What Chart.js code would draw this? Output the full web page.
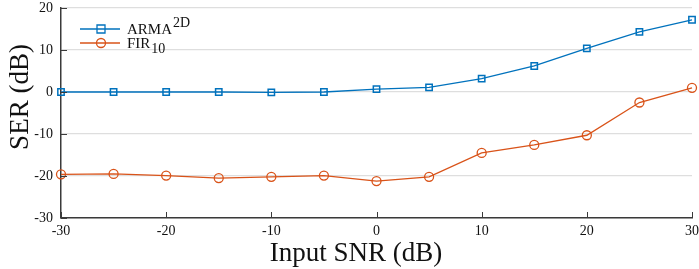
<!DOCTYPE html>
<html>
<head>
<meta charset="utf-8">
<script src="https://cdn.jsdelivr.net/npm/chart.js@4"></script>
<style>
  html, body { margin: 0; padding: 0; background: #fff; }
  #wrap { width: 699px; height: 269px; position: relative; }
</style>
</head>
<body>
<div id="wrap"><canvas id="chart" width="699" height="269"></canvas></div>
<script>
// input SNR values (dB)
const snr = [-30, -25, -20, -15, -10, -5, 0, 5, 10, 15, 20, 25, 30];
// SER for each method (dB)
const armaSer = [0.0, 0.0, 0.0, 0.0, -0.1, 0.0, 0.7, 1.1, 3.2, 6.2, 10.4, 14.3, 17.2];
const firSer = [-19.6, -19.5, -19.9, -20.5, -20.2, -19.9, -21.2, -20.2, -14.5, -12.6, -10.3, -2.5, 1.0];
const yTicks = [-30, -20, -10, 0, 10, 20];
const xTicks = [-30, -20, -10, 0, 10, 20, 30];
const xTitle = "Input SNR (dB)";
const yTitle = "SER (dB)";

const BLUE = "#0072BD";
const ORANGE = "#D95319";
const AXIS = "#3a3a3a";
const SERIF = "'Liberation Serif', 'Times New Roman', serif";

const toPoints = (xs, ys) => xs.map((x, i) => ({ x: x, y: ys[i] }));

// inward ticks on both axes, like the original figure
const innerTicks = {
  id: "innerTicks",
  afterDraw(chart) {
    const ctx = chart.ctx;
    const xs = chart.scales.x;
    const ys = chart.scales.y;
    const area = chart.chartArea;
    ctx.save();
    ctx.strokeStyle = AXIS;
    ctx.lineWidth = 1;
    xTicks.forEach((v) => {
      const px = Math.round(xs.getPixelForValue(v)) + 0.5;
      ctx.beginPath();
      ctx.moveTo(px, area.bottom);
      ctx.lineTo(px, area.bottom - 6);
      ctx.stroke();
    });
    yTicks.forEach((v) => {
      const py = Math.round(ys.getPixelForValue(v)) + 0.5;
      ctx.beginPath();
      ctx.moveTo(area.left, py);
      ctx.lineTo(area.left + 6, py);
      ctx.stroke();
    });
    ctx.restore();
  },
};

// axis titles placed where the original has them (not centred on the plot)
const axisTitles = {
  id: "axisTitles",
  afterDraw(chart) {
    const ctx = chart.ctx;
    ctx.save();
    ctx.fillStyle = "#111";
    ctx.font = "27px " + SERIF;
    ctx.textAlign = "center";
    ctx.textBaseline = "alphabetic";
    ctx.fillText(xTitle, 356, 261);
    ctx.translate(28, 97);
    ctx.rotate(-Math.PI / 2);
    ctx.fillText(yTitle, 0, 0);
    ctx.restore();
  },
};

// legend with super/subscript labels
const mathLegend = {
  id: "mathLegend",
  afterDraw(chart) {
    const ctx = chart.ctx;
    const rows = [
      { color: BLUE, shape: "rect", base: "ARMA", extra: "2D", up: true, y: 29 },
      { color: ORANGE, shape: "circle", base: "FIR", extra: "10", up: false, y: 43 },
    ];
    ctx.save();
    rows.forEach((r) => {
      ctx.strokeStyle = r.color;
      ctx.lineWidth = 1.3;
      ctx.beginPath();
      ctx.moveTo(80, r.y);
      ctx.lineTo(120, r.y);
      ctx.stroke();
      ctx.beginPath();
      if (r.shape === "rect") {
        ctx.rect(97, r.y - 4, 8, 8);
      } else {
        ctx.arc(101, r.y, 4.5, 0, Math.PI * 2);
      }
      ctx.stroke();
      ctx.fillStyle = "#111";
      ctx.textBaseline = "alphabetic";
      ctx.font = "15px " + SERIF;
      ctx.fillText(r.base, 127, r.y + 5);
      const w = ctx.measureText(r.base).width;
      ctx.font = "14px " + SERIF;
      ctx.fillText(r.extra, 127 + w + 1, r.up ? r.y - 2 : r.y + 10);
    });
    ctx.restore();
  },
};

new Chart(document.getElementById("chart").getContext("2d"), {
  type: "line",
  data: {
    datasets: [
      {
        label: "ARMA2D",
        data: toPoints(snr, armaSer),
        borderColor: BLUE,
        backgroundColor: "rgba(0,0,0,0)",
        borderWidth: 1.3,
        pointStyle: "rect",
        pointRadius: 4.5,
        pointBorderWidth: 1.5,
        pointBorderColor: BLUE,
        pointBackgroundColor: "rgba(0,0,0,0)",
        tension: 0,
      },
      {
        label: "FIR10",
        data: toPoints(snr, firSer),
        borderColor: ORANGE,
        backgroundColor: "rgba(0,0,0,0)",
        borderWidth: 1.3,
        pointStyle: "circle",
        pointRadius: 4.5,
        pointBorderWidth: 1.3,
        pointBorderColor: ORANGE,
        pointBackgroundColor: "rgba(0,0,0,0)",
        tension: 0,
      },
    ],
  },
  options: {
    responsive: false,
    animation: false,
    clip: false,
    layout: { padding: { top: 8, right: 7, left: 0, bottom: 0 } },
    plugins: {
      legend: { display: false },
      tooltip: { enabled: false },
    },
    scales: {
      x: {
        type: "linear",
        min: -30,
        max: 30,
        afterBuildTicks: (s) => { s.ticks = xTicks.map((v) => ({ value: v })); },
        afterFit: (s) => {
          s.height = 51;
          s.paddingLeft = 0;
          s.paddingRight = 0;
        },
        grid: { display: false, drawTicks: false },
        border: { display: true, color: AXIS, width: 1.5 },
        ticks: {
          color: "#111",
          padding: 5,
          maxRotation: 0,
          font: { family: SERIF, size: 14 },
        },
      },
      y: {
        min: -30,
        max: 20,
        afterBuildTicks: (s) => { s.ticks = yTicks.map((v) => ({ value: v })); },
        afterFit: (s) => {
          s.width = 61;
          s.paddingTop = 0;
          s.paddingBottom = 0;
        },
        grid: { color: "#dedede", lineWidth: 1.2, drawTicks: false },
        border: { display: true, color: AXIS, width: 1.5 },
        ticks: {
          color: "#111",
          padding: 8,
          font: { family: SERIF, size: 14 },
        },
      },
    },
  },
  plugins: [innerTicks, axisTitles, mathLegend],
});
</script>
</body>
</html>
